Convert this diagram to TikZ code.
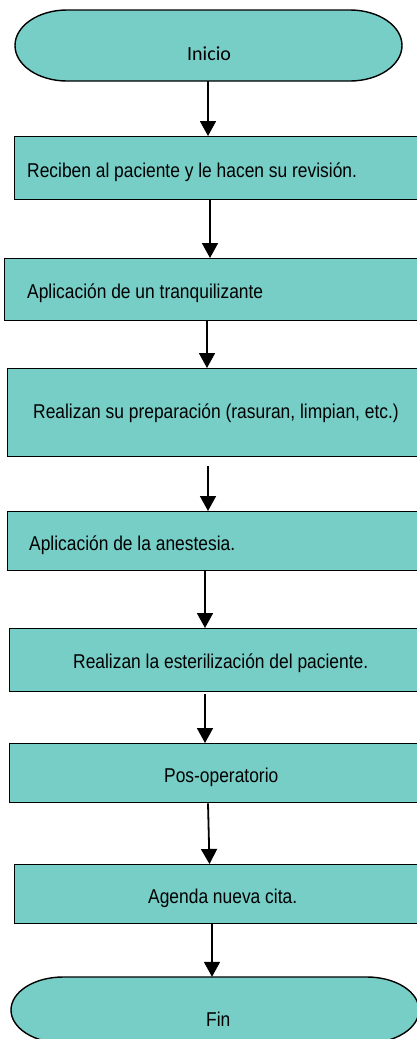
\documentclass[tikz,border=0pt]{standalone}
\usepackage{fontspec}
\setmainfont{Liberation Sans}[FakeStretch=0.87]
\newfontfamily\calib{Carlito}
\usetikzlibrary{arrows.meta}
\definecolor{boxfill}{RGB}{118,206,199}
\begin{document}
\begin{tikzpicture}[x=1pt,y=1pt,
  stepbox/.style={draw=black,fill=boxfill,line width=1.4pt,rectangle,inner sep=0pt,anchor=north west},
  termbox/.style={draw=none,rectangle,inner sep=0pt},
  termline/.style={draw=black,fill=boxfill,line width=1.4pt},
  lbl/.style={anchor=base west,inner sep=0pt,font=\fontsize{20}{24}\selectfont},
  arr/.style={line width=1.8pt,-{Triangle[length=15pt,width=16pt]}}]
\useasboundingbox (0,0) rectangle (417,-1039);
\clip (0,0) rectangle (417,-1039);
% terminals
\node[termbox,minimum width=387pt,minimum height=71pt] (ini) at (208.5,-45.5) {};
\draw[termline] (67,-10) -- (350,-10) arc[start angle=90,end angle=-90,x radius=52,y radius=35.5]
  -- (67,-81) arc[start angle=270,end angle=90,x radius=52,y radius=35.5] -- cycle;
\node[termbox,minimum width=408pt,minimum height=66pt] (fin) at (215,-1010) {};
\draw[termline] (63,-977) -- (367,-977) arc[start angle=90,end angle=-90,x radius=52,y radius=33]
  -- (63,-1043) arc[start angle=270,end angle=90,x radius=52,y radius=33] -- cycle;
% boxes
\node[stepbox,minimum width=404pt,minimum height=63pt] (b1) at (14,-136) {};
\node[stepbox,minimum width=414pt,minimum height=62pt] (b2) at (4,-258) {};
\node[stepbox,minimum width=411pt,minimum height=88pt] (b3) at (7,-368) {};
\node[stepbox,minimum width=411pt,minimum height=59pt] (b4) at (7,-511) {};
\node[stepbox,minimum width=409pt,minimum height=63pt] (b5) at (9,-628) {};
\node[stepbox,minimum width=409pt,minimum height=59pt] (b6) at (9,-743) {};
\node[stepbox,minimum width=404pt,minimum height=59pt] (b7) at (14,-864) {};
% texts
\node[lbl,font=\calib\fontsize{20}{24}\selectfont] (tini) at (187,-60) {Inicio};
\node[lbl] (t1) at (27,-177) {Reciben al paciente y le hacen su revisión.};
\node[lbl] (t2) at (27,-298) {Aplicación de un tranquilizante};
\node[lbl] (t3) at (33,-418) {Realizan su preparación (rasuran, limpian, etc.)};
\node[lbl] (t4) at (29,-550) {Aplicación de la anestesia.};
\node[lbl] (t5) at (73,-668) {Realizan la esterilización del paciente.};
\node[lbl] (t6) at (164,-782) {Pos-operatorio};
\node[lbl] (t7) at (148,-903) {Agenda nueva cita.};
\node[lbl] (tfin) at (206,-1026) {Fin};
% arrow x positions
\coordinate (x1) at (208,0);
\coordinate (x2) at (210,0);
\coordinate (x3) at (207,0);
\coordinate (x4) at (208,0);
\coordinate (x5) at (205,0);
\coordinate (x6) at (205,0);
\coordinate (x7a) at (208,0);
\coordinate (x7b) at (209.5,0);
\coordinate (x8) at (212,0);
\coordinate (s4) at ([yshift=-9pt]b3.south);
\coordinate (s6) at ([yshift=-2pt]b5.south);
\draw[arr] (ini.south -| x1) -- (b1.north -| x1);
\draw[arr] (b1.south -| x2) -- (b2.north -| x2);
\draw[arr] (b2.south -| x3) -- (b3.north -| x3);
\draw[arr] (s4 -| x4) -- (b4.north -| x4);
\draw[arr] (b4.south -| x5) -- (b5.north -| x5);
\draw[arr] (s6 -| x6) -- (b6.north -| x6);
\draw[arr] (b6.south -| x7a) -- (b7.north -| x7b);
\draw[arr] (b7.south -| x8) -- (fin.north -| x8);
\end{tikzpicture}
\end{document}
